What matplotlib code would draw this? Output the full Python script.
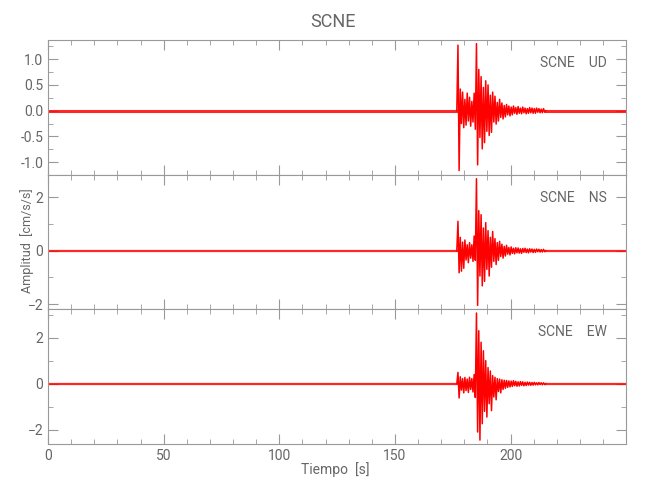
import numpy as np
import matplotlib
matplotlib.use('Agg')
import matplotlib.pyplot as plt
from matplotlib.ticker import MultipleLocator

plt.rcParams['font.family'] = ['Roboto', 'DejaVu Sans']

# sample grid of the event window (s)
t_start = 177.25
t_step = 0.5

ud = [1.27, -1.16, 0.42, -0.25, 0.36, -0.33, 0.22, -0.28, 0.34, -0.20,
      0.26, -0.30, 0.18, -0.22, 0.34, -0.36, 1.30, -1.05, 0.80, -0.52,
      0.66, -0.74, 0.45, -0.62, 0.58, -0.40, 0.50, -0.48, 0.30, -0.42,
      0.36, -0.22, 0.28, -0.26, 0.16, -0.20, 0.22, -0.13, 0.15, -0.16,
      0.10, -0.12, 0.12, -0.08, 0.09, -0.10,
      0.07, -0.08, 0.09, -0.05, 0.06, -0.07, 0.08, -0.05, 0.05, -0.06,
      0.07, -0.04, 0.05, -0.06, 0.04, -0.05, 0.06, -0.04, 0.05, -0.05,
      0.04, -0.05, 0.05, -0.03, 0.04, -0.04, 0.03, -0.04, 0.04, -0.03]

ns = [1.10, -0.83, 0.50, -0.77, 0.32, -0.66, 0.40, -0.35, 0.22, -0.45,
      0.30, -0.28, 0.22, -0.40, 0.55, -0.36, 2.70, -2.05, 1.50, -0.95,
      1.35, -1.32, 0.85, -1.15, 1.05, -0.70, 0.75, -0.95, 0.50, -0.62,
      0.72, -0.40, 0.45, -0.52, 0.30, -0.36, 0.35, -0.22, 0.24, -0.28,
      0.16, -0.20, 0.20, -0.13, 0.12, -0.16,
      0.14, -0.10, 0.09, -0.12, 0.11, -0.08, 0.10, -0.09, 0.07, -0.10,
      0.08, -0.06, 0.09, -0.07, 0.06, -0.08, 0.07, -0.05, 0.06, -0.07,
      0.05, -0.06, 0.06, -0.04, 0.05, -0.05, 0.04, -0.05, 0.05, -0.04]

ew = [0.49, -0.62, 0.30, -0.28, 0.22, -0.40, 0.27, -0.30, 0.20, -0.38,
      0.28, -0.25, 0.22, -0.36, 0.40, -0.60, 3.07, -2.10, 2.30, -2.45,
      1.80, -1.74, 1.43, -1.20, 1.00, -1.45, 0.70, -0.87, 0.55, -1.17,
      0.35, -0.58, 0.28, -0.70, 0.22, -0.34, 0.20, -0.40, 0.17, -0.25,
      0.15, -0.20, 0.14, -0.16, 0.12, -0.14,
      0.11, -0.12, 0.13, -0.09, 0.10, -0.11, 0.08, -0.10, 0.09, -0.07,
      0.08, -0.09, 0.06, -0.08, 0.07, -0.06, 0.06, -0.07, 0.05, -0.06,
      0.06, -0.05, 0.04, -0.05, 0.05, -0.04, 0.04, -0.05, 0.04, -0.04]

channels = ['UD', 'NS', 'EW']
station = 'SCNE'
t_end = 249.9
ylims = [(-1.24, 1.37), (-2.2, 2.85), (-2.62, 3.23)]
ymajor = [0.5, 2, 2]
yminor = [0.25, 1, 1]
noise_lw = [2.2, 1.6, 1.6]

gray = '#666666'
fig = plt.figure(figsize=(6.5, 5), dpi=100)
gs = fig.add_gridspec(3, 1, hspace=0,
                      left=48/650, right=626/650, top=1-40/500, bottom=1-444/500)

for k, vals in enumerate([ud, ns, ew]):
    ax = fig.add_subplot(gs[k])
    t = t_start + t_step*np.arange(len(vals))
    ax.plot([0, t_start - 0.5], [0, 0], color='red', lw=noise_lw[k], alpha=0.85)
    ax.plot([t[-1] + 0.5, t_end], [0, 0], color='red', lw=noise_lw[k], alpha=0.85)
    ax.plot(np.r_[t_start - 0.5, t, t[-1] + 0.5], np.r_[0, vals, 0], color='red', lw=1.1)
    ax.set_xlim(0, t_end)
    ax.set_ylim(*ylims[k])
    ax.xaxis.set_major_locator(MultipleLocator(50))
    ax.xaxis.set_minor_locator(MultipleLocator(10))
    ax.yaxis.set_major_locator(MultipleLocator(ymajor[k]))
    ax.yaxis.set_minor_locator(MultipleLocator(yminor[k]))
    if k == 0:
        ax.yaxis.set_major_formatter(plt.FormatStrFormatter('%.1f'))
    ax.tick_params(which='both', direction='in', top=True, right=True,
                   colors='#999999', labelcolor=gray, labelsize=10)
    ax.tick_params(which='major', length=7)
    ax.tick_params(which='minor', length=3.5)
    for s in ax.spines.values():
        s.set_color('#999999')
    if k < 2:
        ax.tick_params(labelbottom=False)
    ax.text(0.967, 0.83, station + '    ' + channels[k], transform=ax.transAxes,
            ha='right', va='center', color=gray, fontsize=10)

fig.text(333/650, 1-22/500, station, ha='center', va='center', color=gray, fontsize=13)
fig.text(335/650, 1-470/500, 'Tiempo  [s]', ha='center', va='center', color=gray, fontsize=10)
fig.text(27/650, 1-241/500, 'Amplitud  [cm/s/s]', ha='center', va='center',
         rotation=90, color=gray, fontsize=9)

fig.savefig('out.png', dpi=100)
